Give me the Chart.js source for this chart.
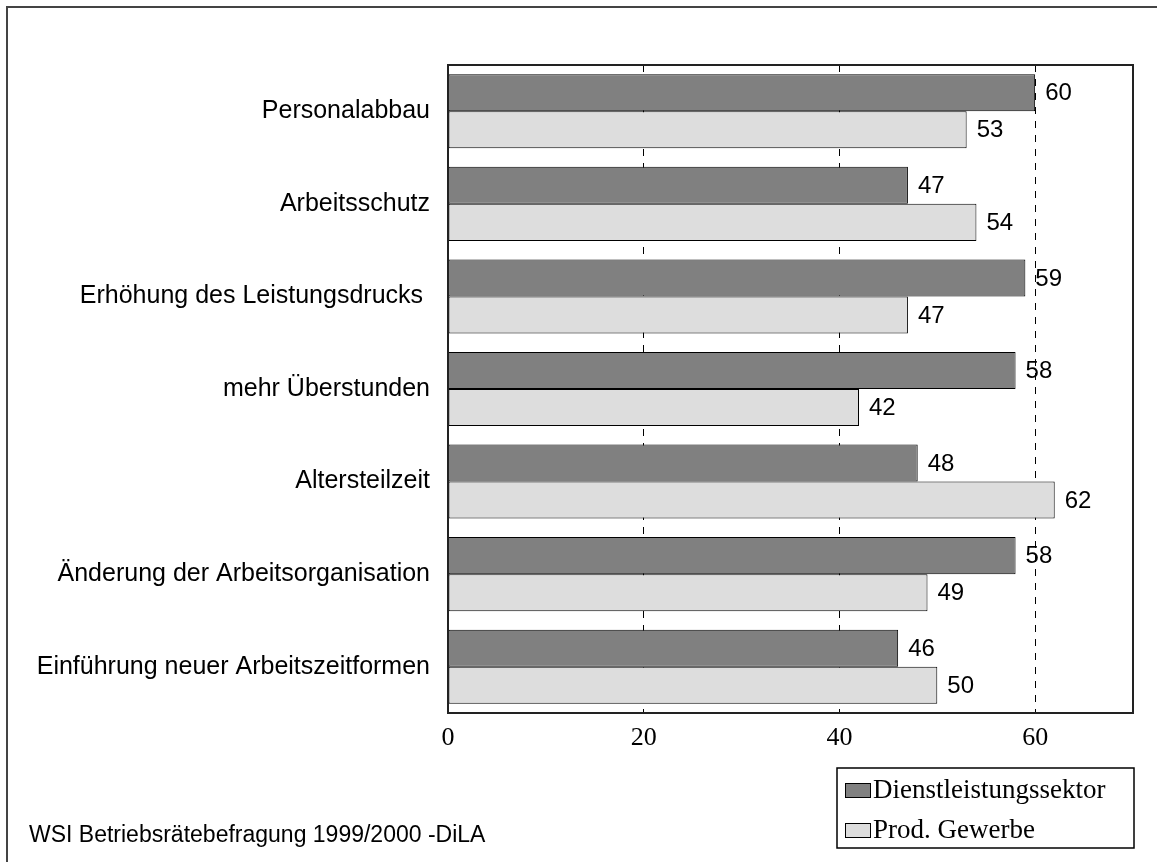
<!DOCTYPE html>
<html>
<head>
<meta charset="utf-8">
<script src="https://cdn.jsdelivr.net/npm/chart.js@4"></script>
<style>
  html, body { margin: 0; padding: 0; background: #fff; }
  #wrap { width: 1157px; height: 862px; position: relative; }
</style>
</head>
<body>
<div id="wrap"><canvas id="chart" width="1157" height="862"></canvas></div>
<script>
// データ
const categories = [
  'Personalabbau',
  'Arbeitsschutz',
  'Erhöhung des Leistungsdrucks ',
  'mehr Überstunden',
  'Altersteilzeit',
  'Änderung der Arbeitsorganisation',
  'Einführung neuer Arbeitszeitformen'
];
const dienstleistung = [60, 47, 59, 58, 48, 58, 46];
const prodGewerbe = [53, 54, 47, 42, 62, 49, 50];
const xTicks = [0, 20, 40, 60];
const seriesNames = ['Dienstleistungssektor', 'Prod. Gewerbe'];
const sourceText = 'WSI Betriebsrätebefragung 1999/2000 -DiLA';

const SANS = "'Liberation Sans', Arial, sans-serif";
const SERIF = "'Liberation Serif', 'Times New Roman', serif";
const DARK = '#808080';
const LIGHT = '#dddddd';

// 枠・凡例・数値ラベル・出典を描くプラグイン
const decorPlugin = {
  id: 'decor',
  afterDatasetsDraw(chart) {
    const ctx = chart.ctx;
    const area = chart.chartArea;
    ctx.save();
    // 数値ラベル
    ctx.font = '24px ' + SANS;
    ctx.fillStyle = '#000';
    ctx.textAlign = 'left';
    ctx.textBaseline = 'middle';
    chart.data.datasets.forEach((ds, i) => {
      chart.getDatasetMeta(i).data.forEach((bar, j) => {
        ctx.fillText(String(ds.data[j]), bar.x + 10, bar.y + 1);
      });
    });
    // プロット枠
    ctx.strokeStyle = '#222';
    ctx.lineWidth = 2;
    ctx.strokeRect(area.left, area.top, area.right - area.left, area.bottom - area.top);
    ctx.restore();
  },
  afterDraw(chart) {
    const ctx = chart.ctx;
    ctx.save();
    // 外枠（上と左）
    ctx.strokeStyle = '#444';
    ctx.lineWidth = 2;
    ctx.beginPath();
    ctx.moveTo(7, 862);
    ctx.lineTo(7, 7);
    ctx.lineTo(1157, 7);
    ctx.stroke();

    // 凡例
    ctx.lineWidth = 1.5;
    ctx.strokeStyle = '#000';
    ctx.strokeRect(837, 768, 297, 80);
    const colors = [DARK, LIGHT];
    ctx.font = '27px ' + SERIF;
    ctx.textAlign = 'left';
    ctx.textBaseline = 'alphabetic';
    seriesNames.forEach((name, i) => {
      const y = 783 + i * 40;
      ctx.fillStyle = colors[i];
      ctx.fillRect(845, y, 25, 14);
      ctx.lineWidth = 1;
      ctx.strokeRect(845.5, y + 0.5, 25, 14);
      ctx.fillStyle = '#000';
      ctx.fillText(name, 873, y + 15);
    });

    // 出典
    ctx.font = '23px ' + SANS;
    ctx.fillStyle = '#000';
    ctx.fillText(sourceText, 29, 842);
    ctx.restore();
  }
};

new Chart(document.getElementById('chart'), {
  type: 'bar',
  data: {
    labels: categories,
    datasets: [
      {
        label: seriesNames[0],
        data: dienstleistung,
        backgroundColor: DARK,
        borderColor: '#000',
        borderWidth: 1,
        borderSkipped: false,
        barPercentage: 1.0,
        categoryPercentage: 0.8
      },
      {
        label: seriesNames[1],
        data: prodGewerbe,
        backgroundColor: LIGHT,
        borderColor: '#000',
        borderWidth: 1,
        borderSkipped: false,
        barPercentage: 1.0,
        categoryPercentage: 0.8
      }
    ]
  },
  options: {
    indexAxis: 'y',
    responsive: false,
    animation: false,
    layout: { padding: { top: 65, right: 24, left: 0, bottom: 0 } },
    plugins: {
      legend: { display: false },
      tooltip: { enabled: false }
    },
    scales: {
      x: {
        min: 0,
        max: 70,
        afterBuildTicks(scale) {
          scale.ticks = xTicks.map(v => ({ value: v }));
        },
        afterFit(scale) {
          scale.height = 149;
        },
        border: { display: false, dash: [7, 7] },
        grid: {
          drawTicks: false,
          color: ctx => (ctx.tick && ctx.tick.value > 0 ? '#000' : 'rgba(0,0,0,0)'),
          lineWidth: 1
        },
        ticks: {
          padding: 10,
          color: '#000',
          font: { family: SERIF, size: 26 }
        }
      },
      y: {
        afterFit(scale) {
          scale.width = 448;
        },
        border: { display: false },
        grid: { display: false, drawTicks: false },
        ticks: {
          padding: 18,
          color: '#000',
          font: { family: SANS, size: 25 }
        }
      }
    }
  },
  plugins: [decorPlugin]
});
</script>
</body>
</html>
